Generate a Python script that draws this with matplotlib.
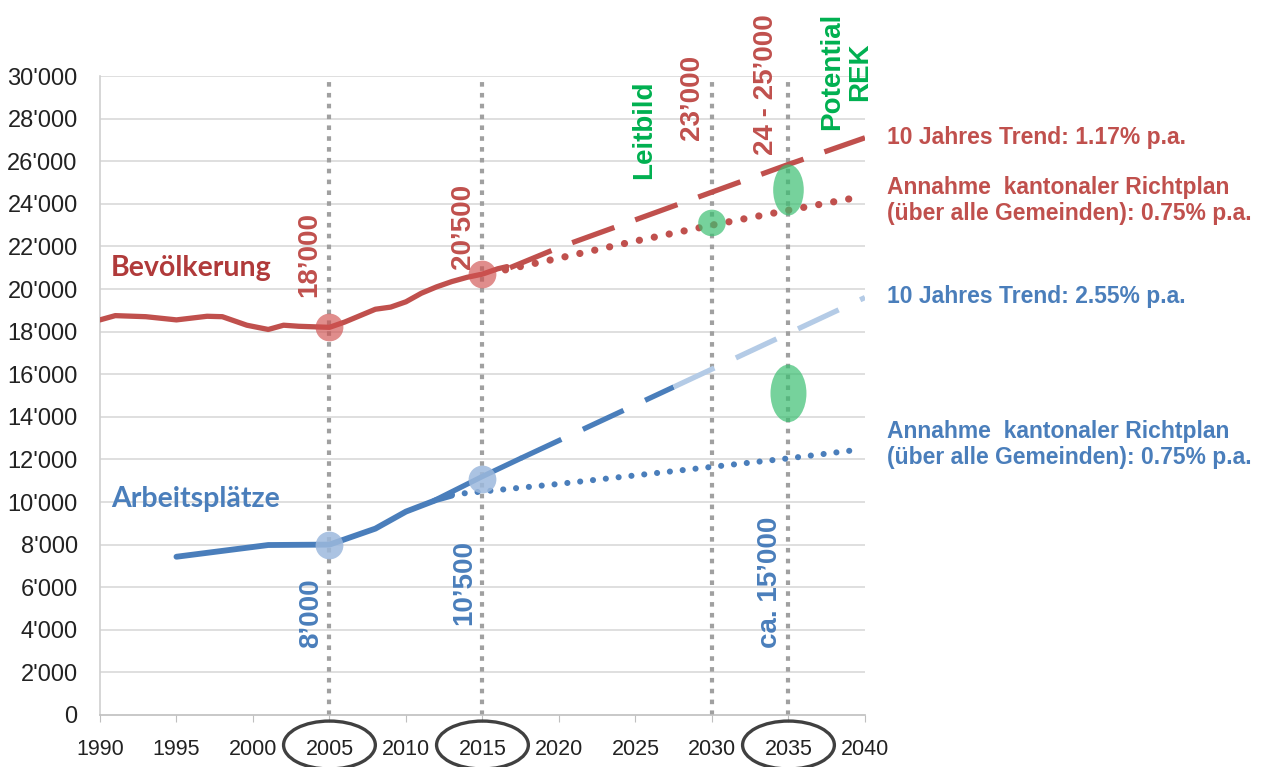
import numpy as np
import matplotlib.pyplot as plt
from matplotlib.patches import Ellipse
import matplotlib.transforms as mtransforms

# Bevölkerung (Ist-Werte)
pop_years = [1990, 1991, 1993, 1995, 1997, 1998, 1999.6, 2001, 2002, 2003, 2005,
             2006, 2007, 2008, 2009, 2010, 2011, 2012, 2013, 2014, 2015, 2016, 2016.6]
pop_values = [18550, 18750, 18700, 18550, 18720, 18700, 18300, 18100, 18300, 18250, 18200,
              18450, 18750, 19050, 19150, 19400, 19800, 20100, 20350, 20550, 20700, 20950, 21050]
# Bevölkerung Prognosen
pop_trend_years = [2016.8, 2020, 2025, 2030, 2035, 2040]
pop_trend_values = [21000, 21950, 23250, 24550, 25850, 27100]
pop_plan_years = [2016.5, 2020, 2025, 2030, 2035, 2039.5]
pop_plan_values = [20900, 21450, 22250, 23000, 23700, 24300]

# Arbeitsplätze (Ist-Werte)
emp_years = [1995, 2001, 2005, 2008, 2010, 2012, 2013]
emp_values = [7430, 7980, 8000, 8750, 9550, 10100, 10300]
emp_link_years = [2011.8, 2015, 2017.5]
emp_link_values = [10050, 11200, 12050]
# Arbeitsplätze Prognosen
emp_trend_years = [2017.5, 2027.5]
emp_trend_values = [12050, 15400]
emp_trend2_years = [2027.5, 2040]
emp_trend2_values = [15400, 19600]
emp_plan_years = [2013, 2020, 2025, 2030, 2035, 2039.5]
emp_plan_values = [10350, 10850, 11250, 11650, 12050, 12450]

# Markierungen
mark_years = [2005, 2015]
pop_marks = [18200, 20700]
emp_marks = [8000, 11100]
green_years = [2030, 2035, 2035]
green_values = [23100, 24650, 15100]
ref_years = [2005, 2015, 2030, 2035]
circled_years = [2005, 2015, 2035]

x_ticks = list(range(1990, 2041, 5))
y_ticks = list(range(0, 30001, 2000))
y_labels = [f"{v:,}".replace(",", "'") for v in y_ticks]

RED = '#C0504D'
BLUE = '#4A7EBB'
LIGHTBLUE = '#B4CBE6'
GREEN = '#00B050'

plt.rcParams['font.family'] = ['Liberation Sans', 'DejaVu Sans']

fig = plt.figure(figsize=(12.62, 7.67), dpi=100)
ax = fig.add_axes([0.0792, 0.0678, 0.6062, 0.8331])
ax.set_xlim(1990, 2040)
ax.set_ylim(0, 30000)

# grid and axes
for v in y_ticks[1:]:
    ax.axhline(v, color='#D9D9D9', lw=1.2, zorder=0)
for s in ['top', 'right']:
    ax.spines[s].set_visible(False)
ax.spines['left'].set_color('#D0D0D0')
ax.spines['bottom'].set_color('#BFBFBF')
ax.spines['left'].set_linewidth(1.2)
ax.spines['bottom'].set_linewidth(1.2)
ax.set_yticks(y_ticks)
ax.set_yticklabels(y_labels, fontsize=17, color='#222222')
ax.tick_params(axis='y', length=0, pad=16)
ax.set_xticks(x_ticks)
ax.set_xticklabels([str(x) for x in x_ticks], fontsize=15.5, color='#222222')
ax.tick_params(axis='x', length=5, color='#BFBFBF', pad=12)

# vertical reference lines
for yr in ref_years:
    ax.plot([yr, yr], [0, 30000], color='#A0A0A0', lw=3.0, dashes=(1.1, 1.5),
            dash_capstyle='butt', zorder=1)

# Bevölkerung
ax.plot(pop_years, pop_values, color=RED, lw=3.8, solid_capstyle='round', zorder=3)
ax.plot(pop_trend_years, pop_trend_values, color=RED, lw=3.8, dashes=(8.5, 4.2), zorder=3)
ax.plot(pop_plan_years, pop_plan_values, color=RED, lw=5.2, dashes=(0.01, 2.1),
        dash_capstyle='round', zorder=3)

# Arbeitsplätze
ax.plot(emp_years, emp_values, color=BLUE, lw=4.2, solid_capstyle='round', zorder=3)
ax.plot(emp_link_years, emp_link_values, color=BLUE, lw=3.8, solid_capstyle='round', zorder=3)
ax.plot(emp_trend_years, emp_trend_values, color=BLUE, lw=3.8, dashes=(8.5, 4.5), zorder=3)
ax.plot(emp_trend2_years, emp_trend2_values, color=LIGHTBLUE, lw=3.8, dashes=(8.5, 4.5), zorder=3)
ax.plot(emp_plan_years, emp_plan_values, color=BLUE, lw=4.4, dashes=(0.01, 2.1),
        dash_capstyle='round', zorder=3)

# circles
ax.plot(mark_years, pop_marks, 'o', ms=20, color='#D0504F', alpha=0.65, mec='none', zorder=4)
ax.plot(mark_years, emp_marks, 'o', ms=20, color='#9DB9DD', alpha=0.85, mec='none', zorder=4)
green_sizes = [(1.8, 1250), (2.0, 2400), (2.35, 2700)]
for yr, v, (w, h) in zip(green_years, green_values, green_sizes):
    ax.add_patch(Ellipse((yr, v), w, h, facecolor='#3CBF72', alpha=0.7,
                         edgecolor='none', zorder=5))

# ellipses around selected year labels
trans = mtransforms.blended_transform_factory(ax.transData, ax.transAxes)
for yr in circled_years:
    ax.add_patch(Ellipse((yr, -0.047), 6.0, 0.075, transform=trans, fill=False,
                         edgecolor='#404040', lw=2.4, clip_on=False, zorder=6))

# rotated value labels
rot = dict(rotation=90, ha='center', va='center', fontsize=20, fontweight='bold')
ax.text(2003.7, 21600, "18’000", color=RED, **rot)
ax.text(2013.7, 22950, "20’500", color=RED, **rot)
ax.text(2028.7, 29000, "23’000", color=RED, clip_on=False, **rot)
ax.text(2033.5, 29600, "24 - 25’000", color=RED, clip_on=False, **rot)
ax.text(2003.8, 4800, "8’000", color=BLUE, **rot)
ax.text(2013.8, 6200, "10’500", color=BLUE, **rot)
ax.text(2033.8, 6250, "ca. 15’000", color=BLUE, **rot)
ax.text(2025.55, 27500, "Leitbild", color=GREEN, clip_on=False, **rot)
ax.text(2038.8, 30200, "Potential\nREK", color=GREEN, linespacing=1.1, clip_on=False,
        multialignment='center', **rot)

# series names
ax.text(1990.7, 21000, "Bevölkerung", color='#B03A3A', fontsize=20.5, fontweight='bold',
        family=['Lato', 'DejaVu Sans'], va='center', ha='left')
ax.text(1990.7, 10150, "Arbeitsplätze", color=BLUE, fontsize=20.5, fontweight='bold',
        family=['Lato', 'DejaVu Sans'], va='center', ha='left')

# right-hand annotations
note = dict(fontsize=16.5, fontweight='bold', ha='left', va='center', clip_on=False,
            linespacing=1.2)
ax.text(2041.45, 27100, "10 Jahres Trend: 1.17% p.a.", color=RED, **note)
ax.text(2041.45, 24150, "Annahme  kantonaler Richtplan\n(über alle Gemeinden): 0.75% p.a.",
        color=RED, **note)
ax.text(2041.45, 19650, "10 Jahres Trend: 2.55% p.a.", color=BLUE, **note)
ax.text(2041.45, 12700, "Annahme  kantonaler Richtplan\n(über alle Gemeinden): 0.75% p.a.",
        color=BLUE, **note)

fig.savefig('out.png', dpi=100, facecolor='white')
